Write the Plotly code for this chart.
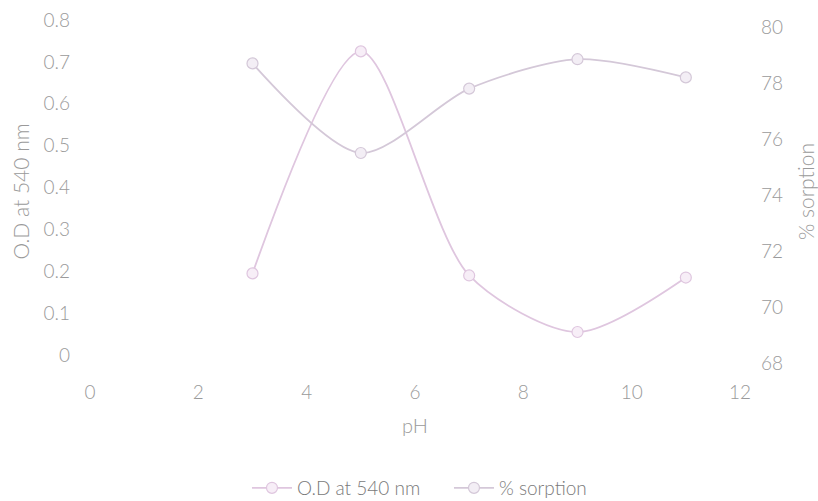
import plotly.graph_objects as go

ph = [3, 5, 7, 9, 11]
od = [0.195, 0.725, 0.19, 0.055, 0.185]
sorption = [78.7, 75.5, 77.8, 78.85, 78.2]

od_color = "#dfc6df"
sorp_color = "#d4c8d8"
text_color = "#9a9a9a"
font_family = "Lato, 'Open Sans', sans-serif"

fig = go.Figure()
fig.add_trace(go.Scatter(
    x=ph, y=od, name="O.D at 540 nm", mode="lines+markers",
    line=dict(color=od_color, width=1.8, shape="spline", smoothing=0.8),
    marker=dict(symbol="circle", size=11, color="#f7eef7", line=dict(color=od_color, width=1.2)),
    yaxis="y"))
fig.add_trace(go.Scatter(
    x=ph, y=sorption, name="% sorption", mode="lines+markers",
    line=dict(color=sorp_color, width=1.8, shape="spline", smoothing=0.8),
    marker=dict(symbol="circle", size=11, color="#f3eef5", line=dict(color=sorp_color, width=1.2)),
    yaxis="y2"))

fig.update_layout(
    width=818, height=501,
    margin=dict(l=90, r=78, t=20, b=138, autoexpand=False),
    paper_bgcolor="white", plot_bgcolor="white",
    font=dict(family=font_family, color=text_color, size=19, weight=300),
    showlegend=True,
    legend=dict(orientation="h", x=0.2415, xanchor="left", xref="paper",
                yref="container", y=0.026, yanchor="middle",
                entrywidth=147, entrywidthmode="pixels",
                font=dict(size=19, color="#7a7a7a", weight=300), itemwidth=40),
    xaxis=dict(range=[0, 12], dtick=2, tick0=0, showgrid=False, zeroline=False,
               showline=False, ticks="", ticklabelstandoff=16, automargin=False,
               title=dict(text="pH", standoff=16, font=dict(size=20)),
               tickfont=dict(size=19)),
    yaxis=dict(range=[-0.019, 0.8], dtick=0.1, tick0=0, showgrid=False, zeroline=False,
               showline=False, ticks="", ticklabelstandoff=19, tickformat=".1~f",
               automargin=False,
               title=dict(text="O.D at 540 nm", standoff=8, font=dict(size=21)),
               tickfont=dict(size=19)),
    yaxis2=dict(range=[68, 80.25], dtick=2, tick0=68, overlaying="y", side="right",
                showgrid=False, zeroline=False, showline=False, ticks="",
                ticklabelstandoff=20, automargin=False,
                title=dict(text="% sorption", standoff=18, font=dict(size=21)),
                tickfont=dict(size=19)),
)

fig.write_html("out.html")
